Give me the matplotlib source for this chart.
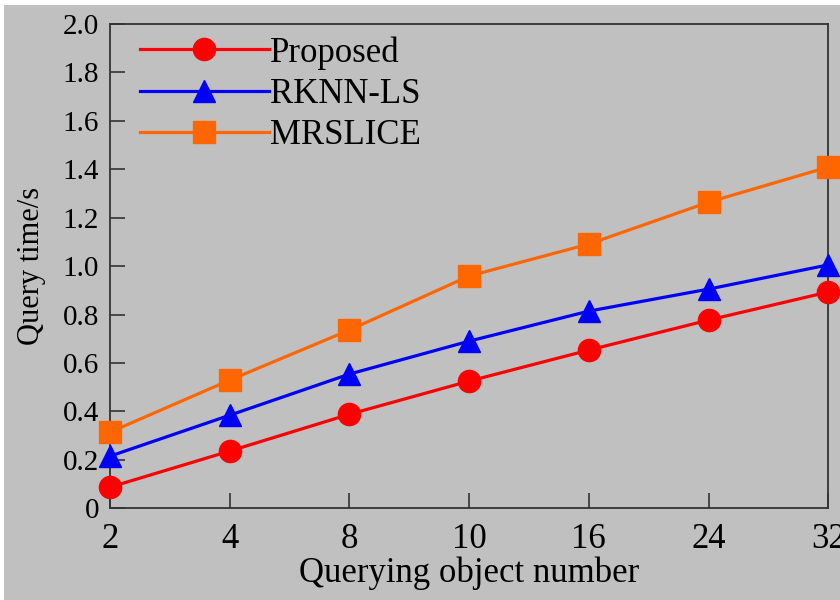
import numpy as np
import matplotlib.pyplot as plt
from matplotlib.patches import Rectangle

plt.rcParams['font.family'] = ['Liberation Serif', 'DejaVu Serif']

# data
categories = ["2", "4", "8", "10", "16", "24", "32"]
proposed = [0.087, 0.236, 0.388, 0.525, 0.653, 0.777, 0.893]
rknn_ls = [0.215, 0.384, 0.554, 0.690, 0.814, 0.905, 1.005]
mrslice = [0.314, 0.529, 0.736, 0.959, 1.091, 1.264, 1.409]
y_ticks = [0, 0.2, 0.4, 0.6, 0.8, 1.0, 1.2, 1.4, 1.6, 1.8, 2.0]
y_tick_labels = ["0", "0.2", "0.4", "0.6", "0.8", "1.0", "1.2", "1.4", "1.6", "1.8", "2.0"]

BG = "#c0c0c0"


def main():
    fig = plt.figure(figsize=(8.4, 6), dpi=100, facecolor=BG)
    # thin white edge at top and left, as in the scanned original
    fig.patches.append(Rectangle((0, 1 - 5 / 600), 1, 5 / 600, transform=fig.transFigure,
                                 facecolor="white", edgecolor="none"))
    fig.patches.append(Rectangle((0, 0), 4 / 840, 1, transform=fig.transFigure,
                                 facecolor="white", edgecolor="none"))

    ax = fig.add_axes([0.131, 0.153, 0.855, 0.807])
    ax.set_facecolor(BG)

    x = np.arange(len(categories))
    ax.plot(x, proposed, color="#ff0000", marker="o", markersize=16, lw=2.3,
            label="Proposed", clip_on=False, zorder=3)
    ax.plot(x, rknn_ls, color="#0000ff", marker="^", markersize=16, lw=2.3,
            label="RKNN-LS", clip_on=False, zorder=3)
    ax.plot(x, mrslice, color="#ff6600", marker="s", markersize=16, lw=2.3,
            label="MRSLICE", clip_on=False, zorder=3)

    ax.set_xlim(0, len(categories) - 1)
    ax.set_ylim(0, 2.0)
    ax.set_xticks(x)
    ax.set_xticklabels(categories, fontsize=25)
    ax.set_yticks(y_ticks)
    ax.set_yticklabels(y_tick_labels, fontsize=21)

    ax.tick_params(axis="both", direction="in", length=11, width=1.2, color="#333333")
    ax.tick_params(axis="x", pad=11)
    ax.tick_params(axis="y", pad=8)
    for spine in ax.spines.values():
        spine.set_color("#333333")
        spine.set_linewidth(1.3)

    ax.set_xlabel("Querying object number", fontsize=25, labelpad=0)
    ax.set_ylabel("Query time/s", fontsize=22, labelpad=12)

    ax.legend(loc="upper left", frameon=False, fontsize=25, handlelength=3.7,
              handletextpad=0.05, labelspacing=0.24, borderpad=0, borderaxespad=0,
              bbox_to_anchor=(0.042, 0.975))

    fig.savefig("out.png", dpi=100, facecolor=BG)


if __name__ == "__main__":
    main()
